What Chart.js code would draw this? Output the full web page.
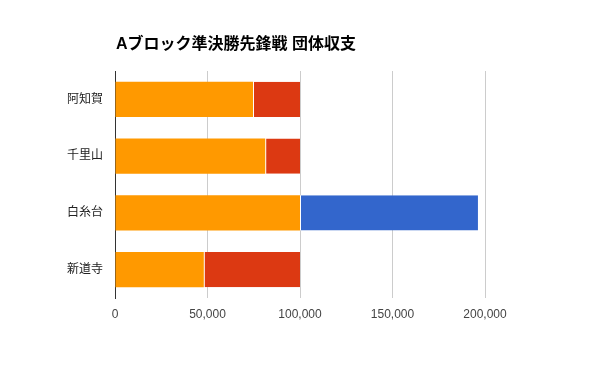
<!DOCTYPE html>
<html><head><meta charset="utf-8">
<script src="https://cdn.jsdelivr.net/npm/chart.js@4"></script>
<style>html,body{margin:0;padding:0;background:#fff}#wrap{width:600px;height:371px}</style>
</head><body><div id="wrap"><canvas id="c" width="600" height="371"></canvas></div>
<script>
const title = 'Aブロック準決勝先鋒戦 団体収支';
const categories = ['阿知賀', '千里山', '白糸台', '新道寺'];
const remaining = [74600, 81200, 100000, 48000];
const lost = [25400, 18800, null, 52000];
const gained = [null, null, 96200, null];
const xTicks = [0, 50000, 100000, 150000, 200000];

const FONT = "Arial, 'Liberation Sans', 'Noto Sans CJK JP', sans-serif";
const titlePlugin = {
  id: 'tp',
  afterDraw(chart) {
    const ctx = chart.ctx;
    ctx.save();
    ctx.font = "bold 16px " + FONT;
    ctx.fillStyle = '#000';
    ctx.textBaseline = 'middle';
    ctx.textAlign = 'left';
    ctx.fillText(title, 116, 45);
    ctx.restore();
  }
};
const seg = {left: 1, right: 0, top: 0, bottom: 0};
new Chart(document.getElementById('c'), {
  type: 'bar',
  data: {
    labels: categories,
    datasets: [
      {data: remaining, backgroundColor: '#ff9900', borderWidth: 0},
      {data: lost, backgroundColor: '#dc3912', borderColor: '#ffffff', borderWidth: seg, borderSkipped: false},
      {data: gained, backgroundColor: '#3366cc', borderColor: '#ffffff', borderWidth: seg, borderSkipped: false}
    ]
  },
  options: {
    indexAxis: 'y',
    responsive: false,
    animation: false,
    devicePixelRatio: 1,
    layout: {padding: {top: 71, right: 115, bottom: 43, left: 0}},
    datasets: {bar: {categoryPercentage: 0.62, barPercentage: 1}},
    plugins: {legend: {display: false}, tooltip: {enabled: false}, title: {display: false}},
    scales: {
      x: {
        stacked: true, min: 0, max: 200000,
        afterBuildTicks: s => { s.ticks = xTicks.map(v => ({value: v})); },
        afterFit: s => { s.height = 30; },
        grid: {color: '#cccccc', drawTicks: false},
        border: {display: false},
        ticks: {padding: 9, color: '#444', font: {family: FONT, size: 12},
          callback: v => Number(v).toLocaleString('en-US')}
      },
      y: {
        stacked: true,
        afterFit: s => { s.width = 115; },
        grid: {display: false, drawTicks: false},
        border: {display: true, color: '#333', width: 1},
        ticks: {padding: 12, color: '#222', font: {family: FONT, size: 12}}
      }
    }
  },
  plugins: [titlePlugin]
});
</script></body></html>
